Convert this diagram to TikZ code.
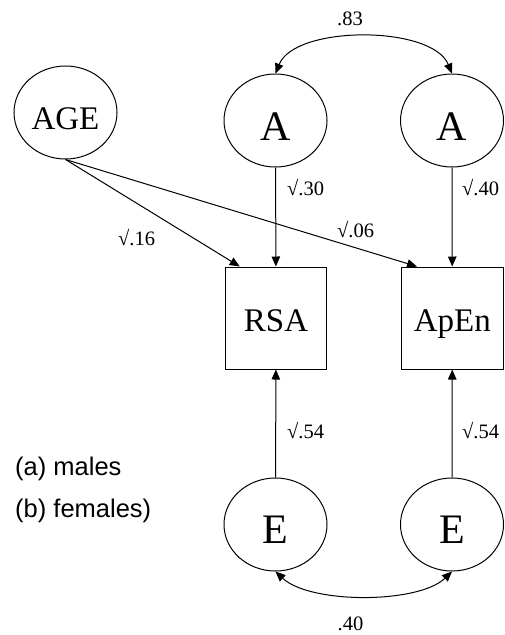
\documentclass[tikz,border=0pt]{standalone}
\usepackage{fontspec}
\setmainfont{Liberation Serif}
\newfontfamily\legendsans{Liberation Sans}
\usetikzlibrary{shapes.geometric,arrows.meta}
\begin{document}
\begin{tikzpicture}[x=1pt,y=-1pt,
  latent/.style={ellipse,draw,line width=1pt,minimum width=103pt,minimum height=93pt,inner sep=0pt,text depth=0pt},
  obs/.style={rectangle,draw,line width=1pt,minimum width=101.5pt,minimum height=102pt,inner sep=0pt,font=\fontsize{33}{36}\selectfont,text height=26pt,text depth=0pt},
  arr/.style={line width=1pt,-{Triangle[length=10pt,width=8.5pt]}},
  cov/.style={line width=1pt,{Triangle[length=10pt,width=8.5pt]}-{Triangle[length=10pt,width=8.5pt]}},
  coef/.style={font=\fontsize{20.5}{24}\selectfont,inner sep=0pt,anchor=base west},
  legend/.style={font=\legendsans\fontsize{25.5}{30}\selectfont,inner sep=0pt,anchor=base west}]
\useasboundingbox (0,0) rectangle (505,635);

% latent variables
\node[latent,font=\fontsize{33}{36}\selectfont,text height=33pt] (AGE) at (65.5,112.5) {AGE};
\node[latent,font=\fontsize{42}{46}\selectfont,text height=39pt] (A1) at (275.5,120.5) {A};
\node[latent,font=\fontsize{42}{46}\selectfont,text height=39pt] (A2) at (452,120.5) {A};
\node[latent,font=\fontsize{42}{46}\selectfont,text height=37pt] (E1) at (275.5,524.5) {E};
\node[latent,font=\fontsize{42}{46}\selectfont,text height=37pt] (E2) at (452,524.5) {E};

% observed variables
\node[obs] (RSA) at (276,318) {RSA};
\node[obs] (ApEn) at (452.3,318) {ApEn};

% paths
\draw[arr] (A1) -- (RSA);
\draw[arr] (A2) -- (ApEn);
\draw[arr] (E1) -- (RSA);
\draw[arr] (E2) -- (ApEn);
\draw[arr] (AGE.south) -- ([xshift=15pt]RSA.north west);
\draw[arr] (AGE.south) -- ([xshift=16pt]ApEn.north west);

% covariances
\draw[cov] (A1.north) .. controls (295,25) and (432,25) .. (A2.north);
\draw[cov] (E1.south) .. controls (310,604) and (418,604) .. (E2.south);

% coefficients
\node[coef,anchor=base] (cA) at (350,25) {.83};
\node[coef] (c16) at (118,245) {√.16};
\node[coef] (c06) at (337,237) {√.06};
\node[coef] (c30) at (287,195) {√.30};
\node[coef] (c40) at (462,195) {√.40};
\node[coef] (c54a) at (287,438) {√.54};
\node[coef] (c54b) at (462,438) {√.54};
\node[coef,anchor=base] (cE) at (350.5,630) {.40};

% legend
\node[legend] (la) at (15,475) {(a) males};
\node[legend] (lb) at (15,517) {(b) females)};
\end{tikzpicture}
\end{document}
